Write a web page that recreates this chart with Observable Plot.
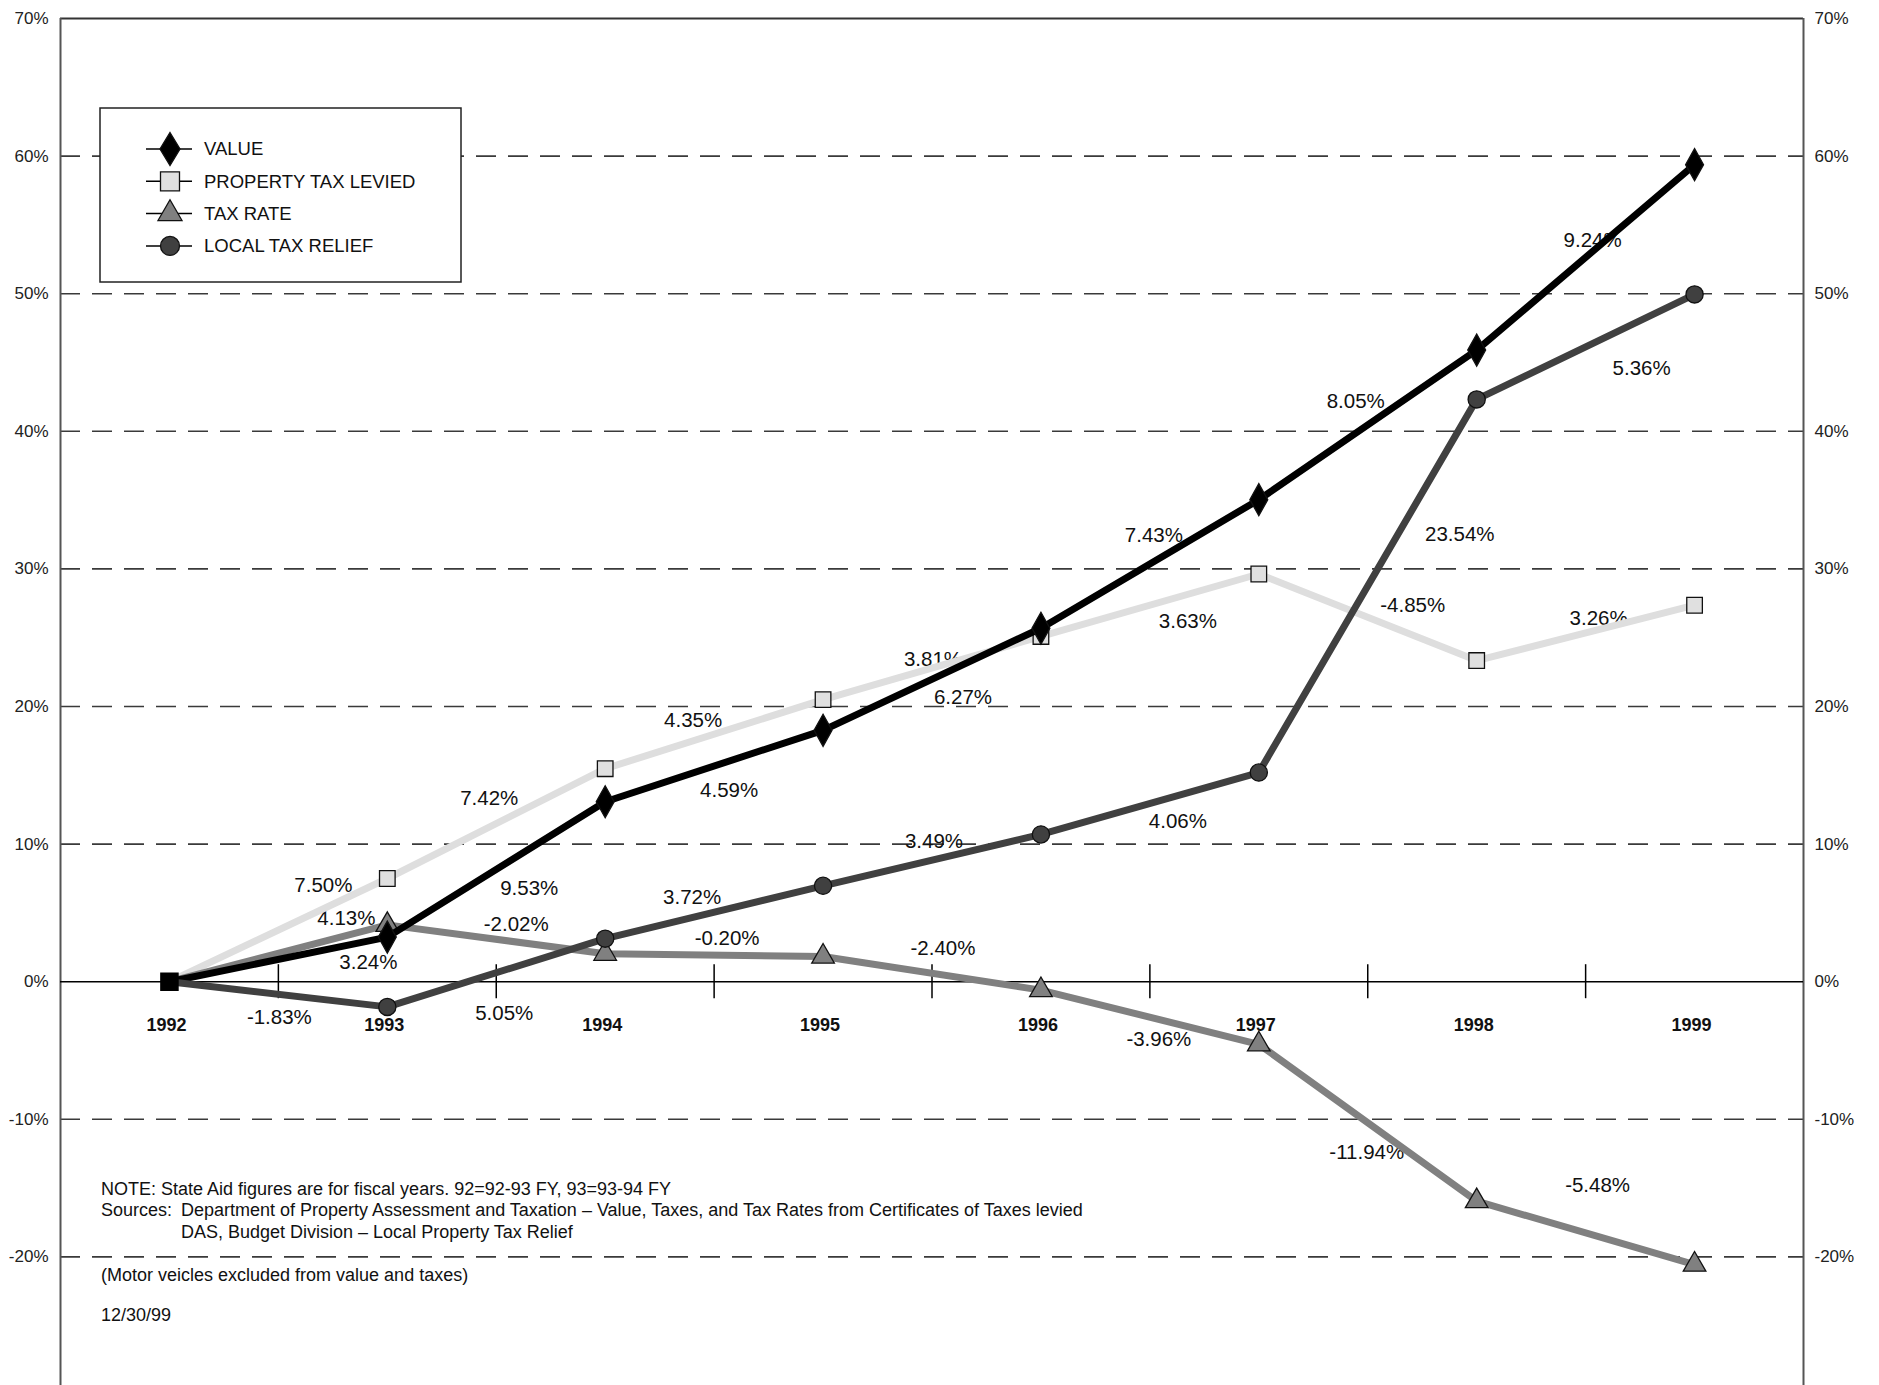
<!DOCTYPE html>
<html><head><meta charset="utf-8">
<script src="https://cdn.jsdelivr.net/npm/d3@7"></script>
<script src="https://cdn.jsdelivr.net/npm/@observablehq/plot@0.6"></script>
<style>
html,body{margin:0;padding:0;background:#fff;overflow:hidden;}
#wrap{position:relative;width:1879px;height:1385px;overflow:hidden;font-family:"Liberation Sans",Arial,sans-serif;}
#chart{position:absolute;left:0;top:0;}
#overlay{position:absolute;left:0;top:0;pointer-events:none;}
</style></head>
<body><div id="wrap"><div id="chart"></div><svg id="overlay" width="1879" height="1385"></svg></div>
<script>
// ---- data (cumulative % change since 1992) ----
const years = [1992, 1993, 1994, 1995, 1996, 1997, 1998, 1999];
const valueCum  = [0, 3.24, 13.08, 18.27, 25.69, 35.03, 45.90, 59.38];
const levyCum   = [0, 7.50, 15.48, 20.50, 25.09, 29.63, 23.34, 27.36];
const rateCum   = [0, 4.13, 2.03, 1.83, -0.61, -4.55, -15.95, -20.56];
const reliefCum = [0, -1.83, 3.13, 6.97, 10.70, 15.20, 42.32, 49.95];
// year-over-year change labels
const valueChg  = ["3.24%", "9.53%", "4.59%", "6.27%", "7.43%", "8.05%", "9.24%"];
const levyChg   = ["7.50%", "7.42%", "4.35%", "3.81%", "3.63%", "-4.85%", "3.26%"];
const rateChg   = ["4.13%", "-2.02%", "-0.20%", "-2.40%", "-3.96%", "-11.94%", "-5.48%"];
const reliefChg = ["-1.83%", "5.05%", "3.72%", "3.49%", "4.06%", "23.54%", "5.36%"];
const yTicks = [-30, -20, -10, 0, 10, 20, 30, 40, 50, 60, 70];
const seriesNames = ["VALUE", "PROPERTY TAX LEVIED", "TAX RATE", "LOCAL TAX RELIEF"];
const noteLines = [
  "NOTE: State Aid figures are for fiscal years. 92=92-93 FY, 93=93-94 FY",
  "Sources:",
  "Department of Property Assessment and Taxation \u2013 Value, Taxes, and Tax Rates from Certificates of Taxes levied",
  "DAS, Budget Division \u2013 Local Property Tax Relief",
  "(Motor veicles excluded from value and taxes)",
  "12/30/99"
];

// ---- label placement offsets (px, relative to segment midpoint) ----
const labelOffsets = {
  value:  [[90,3],[33,19],[15,24],[31,18],[4,-29],[-12,-23],[7,-17]],
  levy:   [[45,-45],[-7,-25],[-21,-14],[1,-9],[38,16],[45,-12],[13,-14]],
  rate:   [[68,-35],[20,-15],[13,-17],[11,-25],[9,22],[-1,30],[12,-47]],
  relief: [[1,23],[8,41],[-22,-15],[2,-19],[28,18],[92,-52],[56,22]]
};

const rows = (cum) => years.map((y, i) => ({year: y, v: cum[i]}));
const valueRows = rows(valueCum), levyRows = rows(levyCum), rateRows = rows(rateCum), reliefRows = rows(reliefCum);
const boundaries = years.slice(0, -1).map((y, i) => (y + years[i + 1]) / 2);

function labelMarks(cum, chg, off) {
  return chg.map((t, i) => Plot.text([{year: (years[i] + years[i + 1]) / 2, v: (cum[i] + cum[i + 1]) / 2, t}],
    {x: "year", y: "v", text: "t", dx: off[i][0], dy: off[i][1], fontSize: 20.5, fill: "#111"}));
}

const tallDiamond = {draw(ctx, size) {
  const r = Math.sqrt(size / Math.PI), w = r * 0.56;
  ctx.moveTo(0, -r); ctx.lineTo(w, 0); ctx.lineTo(0, r); ctx.lineTo(-w, 0); ctx.closePath();
}};

const styles = {
  value:  {stroke: "#000000", fill: "#000000", symbol: tallDiamond, r: 16},
  levy:   {stroke: "#dedede", fill: "#e0e0e0", symbol: "square", r: 8.8},
  rate:   {stroke: "#808080", fill: "#808080", symbol: "triangle", r: 8.4},
  relief: {stroke: "#404040", fill: "#404040", symbol: "circle", r: 8.6}
};

function seriesMarks(data, s) {
  return [
    Plot.line(data, {x: "year", y: "v", stroke: s.stroke, strokeWidth: 7, strokeLinejoin: "miter", strokeLinecap: "butt"}),
    Plot.dot(data.slice(1), {x: "year", y: "v", symbol: s.symbol, r: s.r, fill: s.fill, stroke: "#111", strokeWidth: 1.3})
  ];
}

const chart = Plot.plot({
  width: 1879, height: 1404,
  marginLeft: 60, marginRight: 76, marginTop: 18, marginBottom: 10,
  x: {type: "linear", domain: [1991.5, 1999.5], axis: null},
  y: {domain: [-30, 70], axis: null},
  style: {fontFamily: "'Liberation Sans', Arial, sans-serif", background: "#fff", color: "#222"},
  marks: [
    Plot.ruleY(yTicks.filter(d => d !== 0 && d !== 70 && d !== -30), {stroke: "#3a3a3a", strokeWidth: 1.6, strokeDasharray: "20,12"}),
    Plot.ruleY([70], {stroke: "#333", strokeWidth: 1.8}),
    Plot.ruleX([1991.5, 1999.5], {stroke: "#555", strokeWidth: 2}),
    Plot.ruleY([0], {stroke: "#000", strokeWidth: 1.6}),
    Plot.ruleX(boundaries, {y1: 0, y2: 0, insetTop: -17, insetBottom: -17, stroke: "#000", strokeWidth: 1.5}),
    Plot.axisY({anchor: "left", ticks: yTicks, tickFormat: d => d + "%", tickSize: 0, tickPadding: 12, fontSize: 17, label: null}),
    Plot.axisY({anchor: "right", ticks: yTicks, tickFormat: d => d + "%", tickSize: 0, tickPadding: 11, fontSize: 17, label: null}),
    Plot.text(years, {x: d => d, y: () => 0, text: d => String(d), dy: 44, dx: -3, fontSize: 18, fontWeight: "bold", fill: "#111"}),
    ...labelMarks(valueCum, valueChg, labelOffsets.value),
    ...labelMarks(levyCum, levyChg, labelOffsets.levy),
    ...labelMarks(rateCum, rateChg, labelOffsets.rate),
    ...labelMarks(reliefCum, reliefChg, labelOffsets.relief),
    ...seriesMarks(levyRows, styles.levy),
    ...seriesMarks(rateRows, styles.rate),
    ...seriesMarks(valueRows, styles.value),
    ...seriesMarks(reliefRows, styles.relief),
    Plot.dot(valueRows.slice(0, 1), {x: "year", y: "v", symbol: "square", r: 9.6, fill: "#000", stroke: "#000"})
  ]
});
document.getElementById("chart").appendChild(chart);

// ---- legend & notes overlay ----
const ov = d3.select("#overlay");
const lg = ov.append("g").attr("transform", "translate(100,108)");
lg.append("rect").attr("width", 361).attr("height", 174).attr("fill", "#fff").attr("stroke", "#222").attr("stroke-width", 1.5);
const legendKeys = ["value", "levy", "rate", "relief"];
const legendSyms = {
  value: "M0,-16.5L10,0L0,16.5L-10,0Z",
  levy: "M-9.5,-9.5H9.5V9.5H-9.5Z"
};
legendKeys.forEach((k, i) => {
  const g = lg.append("g").attr("transform", `translate(70,${41 + i * 32.3})`);
  g.append("line").attr("x1", -24).attr("x2", 22).attr("stroke", "#000").attr("stroke-width", 1.5);
  const s = styles[k];
  if (k === "relief") g.append("circle").attr("r", 9.5).attr("fill", s.fill).attr("stroke", "#111").attr("stroke-width", 1.3);
  else if (k === "rate") g.append("path").attr("d", d3.symbol(d3.symbolTriangle, 250)()).attr("fill", s.fill).attr("stroke", "#111").attr("stroke-width", 1.3);
  else g.append("path").attr("d", legendSyms[k]).attr("fill", s.fill).attr("stroke", "#111").attr("stroke-width", 1.3);
  g.append("text").attr("x", 34).attr("y", 0).attr("dy", "0.35em").attr("font-size", 18.5).attr("fill", "#111")
    .attr("font-family", "'Liberation Sans', Arial, sans-serif").text(seriesNames[i]);
});
const notePos = [[101,1195],[101,1216],[181,1216],[181,1238],[101,1281],[101,1321]];
noteLines.forEach((t, i) => {
  ov.append("text").attr("x", notePos[i][0]).attr("y", notePos[i][1]).attr("font-size", 18).attr("fill", "#111")
    .attr("font-family", "'Liberation Sans', Arial, sans-serif").text(t);
});
</script></body></html>
